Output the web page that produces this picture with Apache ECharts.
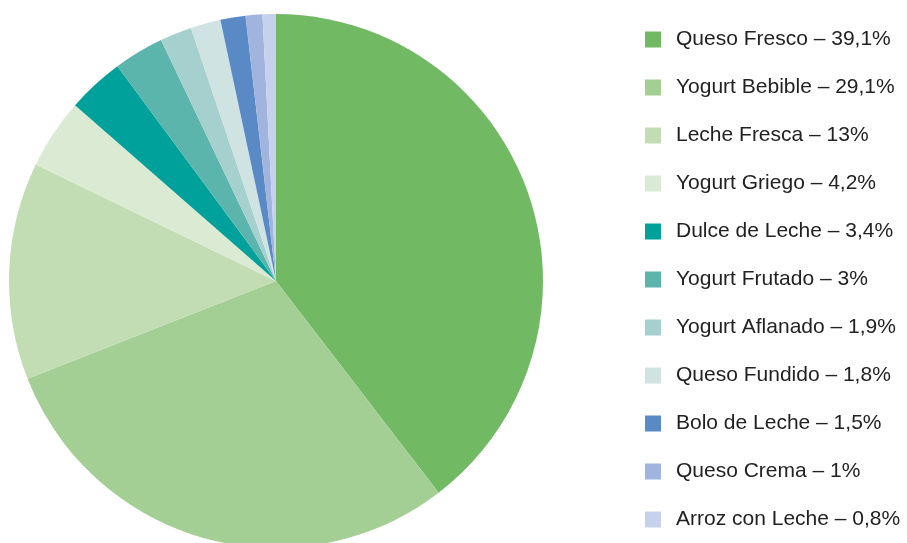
<!DOCTYPE html>
<html><head><meta charset="utf-8">
<script src="https://cdn.jsdelivr.net/npm/echarts@6/dist/echarts.min.js"></script>
<style>html,body{margin:0;padding:0;background:#fff}#c{width:907px;height:543px}</style>
</head><body><div id="c"></div>
<script>
const categories = ["Queso Fresco","Yogurt Bebible","Leche Fresca","Yogurt Griego","Dulce de Leche","Yogurt Frutado","Yogurt Aflanado","Queso Fundido","Bolo de Leche","Queso Crema","Arroz con Leche"];
const values = [39.1,29.1,13,4.2,3.4,3,1.9,1.8,1.5,1,0.8];
const valueLabels = ["39,1%","29,1%","13%","4,2%","3,4%","3%","1,9%","1,8%","1,5%","1%","0,8%"];
const colors = ["#72b964","#a4cf94","#c2ddb4","#dbead3","#00a19a","#5bb5ad","#a6d0cd","#cfe4e2","#5a8ac6","#a0b4de","#c6d2ec"];

const chart = echarts.init(document.getElementById('c'), null, {renderer:'canvas'});
chart.setOption({
  animation:false,
  color: colors,
  legend:{
    orient:'vertical', left:645, top:29, padding:0,
    itemWidth:16, itemHeight:16, itemGap:27,
    icon:'rect',
    formatter: name => name + ' – ' + valueLabels[categories.indexOf(name)],
    textStyle:{fontFamily:'Liberation Sans, Arial, sans-serif', fontSize:21, lineHeight:21, color:'#222', padding:[0,0,0,10]}
  },
  series:[{
    type:'pie', radius:267, center:[276,281], startAngle:90, clockwise:true,
    label:{show:false}, labelLine:{show:false}, emphasis:{disabled:true},
    itemStyle:{borderWidth:0},
    data: categories.map((n,i)=>({name:n, value:values[i]}))
  }]
});
</script></body></html>
